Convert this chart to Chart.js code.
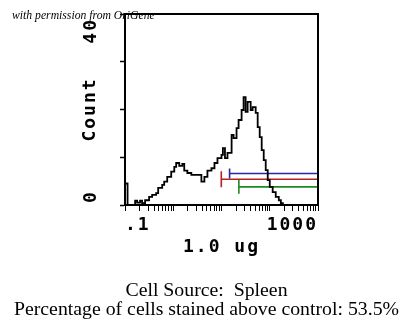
<!DOCTYPE html>
<html>
<head>
<meta charset="utf-8">
<script src="https://cdn.jsdelivr.net/npm/chart.js@4.4.0/dist/chart.umd.min.js"></script>
<style>
html, body { margin: 0; padding: 0; background: #fff; }
#wrap { position: relative; width: 417px; height: 336px; overflow: hidden; }
#chart_canvas { position: absolute; left: 0; top: 0; }
#note { position: absolute; left: 12px; top: 9.5px; font: italic 11.7px "Liberation Serif", serif; line-height: 1; white-space: nowrap; color: #000; }
#caption { position: absolute; left: 0; top: 280px; width: 413px; text-align: center; font: 19.8px "Liberation Serif", serif; line-height: 19px; white-space: pre; color: #000; }
</style>
</head>
<body>
<div id="wrap">
  <canvas id="chart_canvas" width="417" height="336"></canvas>
  <div id="note">with permission from OriGene</div>
  <div id="caption">Cell Source:  Spleen
Percentage of cells stained above control: 53.5%</div>
</div>
<script>
// histogram: channel start (log x) and count
var histX = [0.1, 0.113, 0.162, 0.178, 0.205, 0.226, 0.261, 0.316, 0.365, 0.442, 0.487, 0.59, 0.649, 0.75, 0.908,
    1.05, 1.15, 1.33, 1.54, 1.69, 1.96, 2.37, 3.83, 4.42, 5.11, 6.19, 7.15, 8.25, 10.0, 10.7, 11.8, 13.3, 16.2,
    17.8, 20.5, 22.6, 26.1, 28.7, 31.6, 34.8, 40.2, 44.2, 51.1, 56.2, 61.9, 68.1, 75.0, 82.5, 90.8, 100, 115,
    133, 154, 170, 187, 1000];
var histCount = [4.5, 0, 0.9, 0.5, 0.9, 0.4, 1.0, 1.7, 2.1, 2.5, 3.6, 4.2, 4.9, 5.9, 7.0,
    8.0, 8.8, 8.2, 8.6, 7.2, 6.7, 6.3, 4.9, 5.9, 7.2, 7.7, 8.8, 9.8, 10.5, 11.9, 9.8, 10.9, 14.7,
    14.0, 16.1, 17.8, 19.9, 22.6, 19.5, 21.6, 19.9, 20.5, 19.3, 16.3, 14.2, 11.5, 9.4, 7.3, 5.2, 3.8, 2.7,
    1.7, 1.0, 0.4, 0, 0];

// marker gates (blue, red, green)
var gateStart = [14.7, 9.9, 22.9];
var gateEnd = [1000, 1000, 1000];
var gateLevel = [6.6, 5.4, 3.8];
var gateColors = ["#2626a6", "#b82020", "#1f8a1f"];
var gateCap = [5, 8, 7];

var xTickValues = [0.1, 0.2, 0.3, 0.4, 0.5, 0.6, 0.7, 0.8, 0.9,
    1, 2, 3, 4, 5, 6, 7, 8, 9,
    10, 20, 30, 40, 50, 60, 70, 80, 90,
    100, 200, 300, 400, 500, 600, 700, 800, 900, 1000];
var xLabelValues = [0.1, 1000];
var xLabelTexts = [".1", "1000"];
var yTickValues = [0, 40];
var yTickLabels = ["0", "40"];

var axisFont = { family: '"DejaVu Sans Mono", monospace', size: 18, weight: 'bold' };
var spacing = '2px';

var datasets = [{
    data: histX.map(function (x, i) { return { x: x, y: histCount[i] }; }),
    borderColor: '#000',
    borderWidth: 1.8,
    stepped: true,
    pointRadius: 0,
    fill: false
}];
for (var g = 0; g < gateStart.length; g++) {
    datasets.push({
        data: [{ x: gateStart[g], y: gateLevel[g] }, { x: gateEnd[g], y: gateLevel[g] }],
        borderColor: gateColors[g],
        borderWidth: 1.6,
        pointStyle: 'line',
        rotation: 90,
        pointRadius: gateCap[g],
        pointBorderWidth: 1.6,
        pointBorderColor: gateColors[g],
        fill: false,
        clip: 4
    });
}

var spacingPlugin = {
    id: 'spacing',
    beforeLayout: function (chart) { chart.ctx.letterSpacing = spacing; },
    beforeDraw: function (chart) { chart.ctx.letterSpacing = spacing; }
};

var framePlugin = {
    id: 'frame',
    afterDraw: function (chart) {
        var ctx = chart.ctx, a = chart.chartArea;
        ctx.save();
        ctx.strokeStyle = '#000';
        ctx.lineWidth = 2;
        ctx.beginPath();
        ctx.moveTo(a.left, a.top);
        ctx.lineTo(a.right, a.top);
        ctx.lineTo(a.right, a.bottom);
        ctx.stroke();
        // rotated y labels, pinned to the axis ends
        var ys = chart.scales.y;
        ctx.font = 'bold 18px "DejaVu Sans Mono", monospace';
        ctx.fillStyle = '#000';
        ctx.textBaseline = 'middle';
        for (var i = 0; i < yTickValues.length; i++) {
            var py = ys.getPixelForValue(yTickValues[i]);
            ctx.save();
            ctx.translate(91, py);
            ctx.rotate(-Math.PI / 2);
            ctx.textAlign = i === 0 ? 'left' : 'right';
            ctx.fillText(yTickLabels[i], i === 0 ? 2 : -4, 0);
            ctx.restore();
        }
        ctx.restore();
    }
};

var myChart = new Chart('chart_canvas', {
    type: 'line',
    data: { datasets: datasets },
    plugins: [spacingPlugin, framePlugin],
    options: {
        responsive: false,
        animation: false,
        events: [],
        layout: { padding: { left: 0, top: 14, right: 99, bottom: 71 } },
        plugins: { legend: { display: false }, tooltip: { enabled: false } },
        scales: {
            x: {
                type: 'logarithmic',
                min: 0.1,
                max: 1000,
                afterBuildTicks: function (scale) {
                    scale.ticks = xTickValues.map(function (v) { return { value: v }; });
                },
                afterFit: function (scale) { scale.height = 60; },
                ticks: {
                    autoSkip: false,
                    maxRotation: 0,
                    minRotation: 0,
                    align: 'inner',
                    padding: 4,
                    color: '#000',
                    font: axisFont,
                    callback: function (v) {
                        var k = xLabelValues.indexOf(v);
                        return k >= 0 ? xLabelTexts[k] : '';
                    }
                },
                grid: { drawOnChartArea: false, drawTicks: true, tickLength: 6, tickColor: '#000', tickWidth: 1 },
                border: { color: '#000', width: 2 },
                title: { display: true, text: '1.0 ug', color: '#000', font: axisFont, padding: { top: 0, bottom: 7 } }
            },
            y: {
                min: 0,
                max: 40,
                afterFit: function (scale) { scale.width = 125; },
                ticks: { stepSize: 10, color: '#000', font: axisFont, callback: function () { return ''; } },
                grid: { drawOnChartArea: false, drawTicks: true, tickLength: 5, tickColor: '#000', tickWidth: 1.5 },
                border: { color: '#000', width: 2 },
                title: { display: true, text: 'Count', color: '#000', font: axisFont, padding: { top: 80, bottom: 0 } }
            }
        }
    }
});
</script>
</body>
</html>
